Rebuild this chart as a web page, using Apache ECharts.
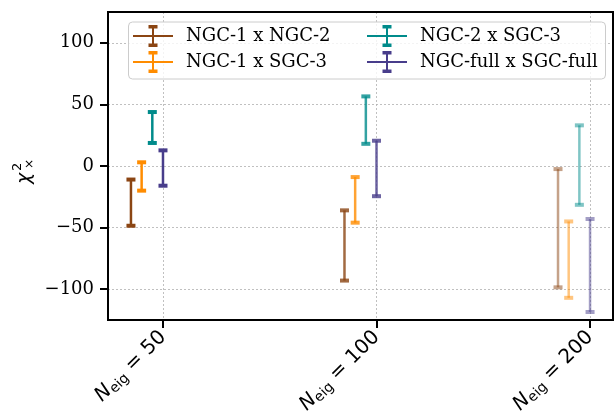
<!DOCTYPE html>
<html>
<head>
<meta charset="utf-8">
<script src="https://cdn.jsdelivr.net/npm/echarts@6/dist/echarts.min.js"></script>
<style>
  html, body { margin: 0; padding: 0; background: #fff; }
  #chart { width: 614px; height: 415px; }
</style>
</head>
<body>
<div id="chart"></div>
<script>
// N_eig settings along the x axis
const categories = ['50', '100', '200'];
const yTicks = [-100, -50, 0, 50, 100];

// chi^2 cross ranges [low, high] for each N_eig setting
const seriesNames = ['NGC-1 x NGC-2', 'NGC-1 x SGC-3', 'NGC-2 x SGC-3', 'NGC-full x SGC-full'];
const ngc1xngc2 = [[-48.5, -11], [-93, -36], [-98.5, -2.5]];
const ngc1xsgc3 = [[-20, 3], [-46, -9], [-107, -45]];
const ngc2xsgc3 = [[18.7, 43.8], [18, 56.5], [-31.5, 33]];
const ngcfullxsgcfull = [[-16, 12.7], [-24.5, 20.5], [-118.5, -43]];

const seriesRanges = [ngc1xngc2, ngc1xsgc3, ngc2xsgc3, ngcfullxsgcfull];
const seriesColors = ['#8B4513', '#FF8C00', '#008B8B', '#483D8B'];
const seriesOffsets = [-0.15, -0.1, -0.05, 0];
const categoryAlpha = [1, 0.8, 0.5];

const serif = 'DejaVu Serif';
const sans = 'DejaVu Sans';

// error-bar glyph used for the legend icons (40 x 22 box)
const errIcon = 'path://M0 10H40V12H0Z M19 2H21V20H19Z M15.5 0H24.5V3.5H15.5Z M15.5 18.5H24.5V22H15.5Z';

function makeRenderer(color) {
  return function (params, api) {
    const x = api.value(0);
    const lo = api.value(1);
    const hi = api.value(2);
    const a = api.value(3);
    const pLo = api.coord([x, lo]);
    const pHi = api.coord([x, hi]);
    const cw = 9, ch = 4;
    return {
      type: 'group',
      children: [
        { type: 'line', shape: { x1: pLo[0], y1: pLo[1], x2: pHi[0], y2: pHi[1] },
          style: { stroke: color, lineWidth: 2.5, opacity: a } },
        { type: 'rect', shape: { x: pHi[0] - cw / 2, y: pHi[1] - ch / 2, width: cw, height: ch },
          style: { fill: color, opacity: a } },
        { type: 'rect', shape: { x: pLo[0] - cw / 2, y: pLo[1] - ch / 2, width: cw, height: ch },
          style: { fill: color, opacity: a } }
      ]
    };
  };
}

const series = seriesNames.map(function (name, s) {
  const data = seriesRanges[s].map(function (r, i) {
    return [i + seriesOffsets[s], r[0], r[1], categoryAlpha[i]];
  });
  return {
    name: name,
    type: 'custom',
    renderItem: makeRenderer(seriesColors[s]),
    itemStyle: { color: seriesColors[s] },
    encode: { x: 0, y: [1, 2] },
    data: data,
    z: 5
  };
});

const chart = echarts.init(document.getElementById('chart'), null, { renderer: 'canvas' });

const gridLine = { show: true, lineStyle: { color: '#b0b0b0', width: 0.8, type: [2, 2] } };
const axisEdge = { show: true, onZero: false, lineStyle: { color: '#000', width: 2 } };
const tickStyle = { color: '#000', width: 2 };

function legendBlock(names, left) {
  return {
    data: names,
    orient: 'vertical', left: left, top: 25, padding: 0,
    itemWidth: 40, itemHeight: 22, itemGap: 4,
    icon: errIcon, symbolKeepAspect: false,
    textStyle: { fontFamily: serif, fontSize: 18, color: '#000', padding: [0, 0, 0, 8] },
    z: 10
  };
}

chart.setOption({
  animation: false,
  backgroundColor: '#fff',
  grid: {
    left: 108, right: 1, top: 12, bottom: 95, outerBoundsMode: 'none',
    show: true, borderColor: '#000', borderWidth: 2, backgroundColor: 'transparent', z: 3
  },
  xAxis: {
    type: 'value',
    min: -0.2575, max: 2.1075,
    axisLine: axisEdge,
    axisTick: { show: true, length: 8, lineStyle: tickStyle, customValues: [0, 1, 2] },
    splitLine: gridLine,
    axisLabel: {
      customValues: [0, 1, 2],
      rotate: 45,
      margin: 14,
      formatter: function (v) {
        return '{n|N}{s|eig}{t| = ' + categories[Math.round(v)] + '}';
      },
      rich: {
        n: { fontFamily: sans, fontStyle: 'italic', fontSize: 20, color: '#000' },
        s: { fontFamily: sans, fontSize: 14, color: '#000', verticalAlign: 'bottom', padding: [9, 0, 0, 0] },
        t: { fontFamily: sans, fontSize: 20, color: '#000' }
      }
    }
  },
  yAxis: {
    type: 'value',
    min: -125, max: 125,
    axisLine: axisEdge,
    axisTick: { show: true, length: 8, lineStyle: tickStyle, customValues: yTicks },
    splitLine: gridLine,
    axisLabel: {
      customValues: yTicks,
      margin: 14,
      fontFamily: serif, fontSize: 18, color: '#000',
      formatter: function (v) { return String(v).replace('-', '\u2212'); }
    }
  },
  legend: [
    legendBlock([seriesNames[0], seriesNames[1]], 133),
    legendBlock([seriesNames[2], seriesNames[3]], 367)
  ],
  graphic: [
    {
      type: 'rect', z: 8,
      shape: { x: 128.5, y: 22, width: 477, height: 57, r: 4 },
      style: { fill: 'rgba(255,255,255,0.8)', stroke: '#cccccc', lineWidth: 1 }
    },
    {
      // rotated y-axis title: chi with superscript 2 and subscript cross
      type: 'group', x: 25, y: 184, rotation: Math.PI / 2,
      children: [
        { type: 'text', x: 0, y: 0, style: { text: '\u03c7', fontFamily: sans, fontStyle: 'italic', fontSize: 19, fill: '#000', verticalAlign: 'middle' } },
        { type: 'text', x: 13, y: -7, style: { text: '2', fontFamily: sans, fontSize: 13, fill: '#000', verticalAlign: 'middle' } },
        { type: 'text', x: 15, y: 5, style: { text: '\u00d7', fontFamily: sans, fontSize: 12, fill: '#000', verticalAlign: 'middle' } }
      ]
    }
  ],
  series: series
});
</script>
</body>
</html>
